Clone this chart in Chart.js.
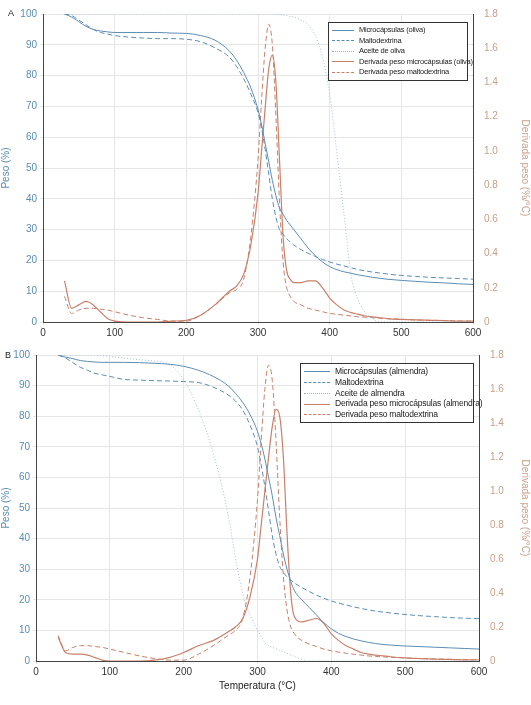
<!DOCTYPE html>
<html><head><meta charset="utf-8">
<script src="https://cdn.jsdelivr.net/npm/chart.js"></script>
<style>
body{margin:0;background:#fff;width:531px;height:705px;position:relative;font-family:"Liberation Sans",Arial,sans-serif;overflow:hidden}
.wrap{position:absolute;left:0;overflow:hidden}
.lab{position:absolute;font-size:9px;color:#222}
.leg{position:absolute;border:1px solid #333;background:#fff;font-size:7.5px;color:#222;padding:2px 3px;line-height:10.5px;letter-spacing:-0.2px}
.leg div{white-space:nowrap}
.leg span{display:inline-block;width:22px;margin-right:5px;vertical-align:middle}
</style></head><body>
<div class="wrap" style="top:0;height:340px;width:531px"><canvas id="a" width="531" height="357"></canvas></div>
<div class="wrap" style="top:340px;height:365px;width:531px"><canvas id="b" width="531" height="356"></canvas></div>
<div class="lab" style="left:8px;top:8px">A</div>
<div class="lab" style="left:5px;top:350px">B</div>
<div class="leg" style="left:328px;top:22px;width:132px">
<div><span style="border-top:1px solid #5b8db3"></span>Microcápsulas (oliva)</div>
<div><span style="border-top:1px dashed #5b8db3"></span>Maltodextrina</div>
<div><span style="border-top:1px dotted #9ab6cc"></span>Aceite de oliva</div>
<div><span style="border-top:1px solid #c8806a"></span>Derivada peso microcápsulas (oliva)</div>
<div><span style="border-top:1px dashed #c8806a"></span>Derivada peso maltodextrina</div>
</div>
<div class="leg" style="left:300px;top:363px;width:166px;font-size:8.5px;line-height:10.8px">
<div><span style="border-top:1px solid #5b8db3;width:26px"></span>Microcápsulas (almendra)</div>
<div><span style="border-top:1px dashed #5b8db3;width:26px"></span>Maltodextrina</div>
<div><span style="border-top:1px dotted #9ab6cc;width:26px"></span>Aceite de almendra</div>
<div><span style="border-top:1px solid #c8806a;width:26px"></span>Derivada peso microcápsulas (almendra)</div>
<div><span style="border-top:1px dashed #c8806a;width:26px"></span>Derivada peso maltodextrina</div>
</div>
<script>
const temps=[30,40,50,60,70,80,90,100,120,140,160,180,200,220,240,260,270,280,290,300,305,310,315,320,325,330,335,340,345,350,360,370,380,390,400,410,420,430,440,450,460,470,480,500,520,540,560,580,600];
const xTicks=[0,100,200,300,400,500,600];
const microOliva=[100,99,97.5,96,95,94.5,94.2,94,94,94,94,93.8,93.7,93,91.5,88,85,81,76,69,64,58,52,46,41,37,35,33,31.5,30,27,24,21.5,19.5,18,17,16.3,15.8,15.3,14.9,14.5,14.2,13.9,13.5,13.2,12.9,12.7,12.4,12.2];
const maltoA=[100,99.5,98,96.5,95,94,93.5,93,92.5,92.2,92,92,91.8,91,89,86,83,79,74,68,63,56,48,40,34,30,28.5,27,26,25,23.5,22.3,21.3,20.3,19.5,18.8,18.2,17.6,17,16.6,16.2,15.9,15.6,15.1,14.8,14.5,14.3,14.1,13.9];
const aceiteOliva=[100,100,100,100,100,100,100,100,100,100,100,100,100,100,100,100,100,100,100,100,100,100,100,100,99.9,99.8,99.7,99.5,99.2,99,98,96.5,93,86,74,55,35,15,7,3,1,0,0,0,0,0,0,0,0];
const dMicroOliva=[0.24,0.08,0.1,0.12,0.1,0.06,0.02,0.005,0,0,0,0.005,0.01,0.04,0.1,0.18,0.21,0.28,0.45,0.75,1.0,1.25,1.48,1.56,1.4,0.95,0.5,0.3,0.25,0.23,0.23,0.24,0.24,0.2,0.14,0.1,0.07,0.055,0.045,0.035,0.03,0.025,0.02,0.015,0.012,0.01,0.008,0.005,0.005];
const dMaltoA=[0.15,0.05,0.07,0.08,0.08,0.075,0.07,0.06,0.04,0.025,0.015,0.005,0.005,0.04,0.1,0.17,0.19,0.25,0.5,0.95,1.3,1.6,1.74,1.62,1.2,0.7,0.35,0.2,0.15,0.12,0.1,0.08,0.07,0.06,0.05,0.045,0.04,0.035,0.03,0.028,0.025,0.022,0.02,0.016,0.012,0.01,0.008,0.006,0.005];
const microAlm=[100,99.3,98.8,98.2,97.9,97.7,97.6,97.6,97.6,97.5,97.3,97,96.3,95,93,90,87.5,84.5,80.5,75,71,66,60,54,47,41,35,30,26,23,20,17.5,15,12.5,10.5,9,8,7.2,6.6,6.1,5.7,5.4,5.2,4.9,4.7,4.5,4.3,4.1,3.9];
const maltoB=[100,99,97.5,96,95,94,93.5,93,92,91.8,91.6,91.5,91.3,91,89.5,87,85,82,77,70,64,57,49,41,35,31,29,27.5,26.5,25.5,24,22.7,21.5,20.5,19.6,18.9,18.3,17.7,17.2,16.7,16.3,16,15.7,15.2,14.8,14.5,14.2,14,13.9];
const aceiteAlm=[100,100,100,100,100,100,99.8,99.5,99,98.5,98,97,92,82,68,48,34,22,15,10,8,6,5,4.5,4,3.5,3,2.5,2,1.5,0.5,0,0,0,0,0,0,0,0,0,0,0,0,0,0,0,0,0,0];
const dMicroAlm=[0.14,0.05,0.04,0.04,0.035,0.02,0.005,0,0,0,0.005,0.02,0.05,0.09,0.12,0.17,0.2,0.25,0.38,0.6,0.8,1.0,1.2,1.38,1.48,1.44,1.2,0.75,0.4,0.26,0.23,0.24,0.25,0.22,0.16,0.12,0.09,0.07,0.05,0.04,0.035,0.03,0.025,0.018,0.014,0.011,0.009,0.007,0.006];
const dMaltoB=[0.15,0.06,0.08,0.09,0.09,0.085,0.08,0.07,0.05,0.03,0.015,0.005,0.005,0.04,0.09,0.15,0.18,0.25,0.5,0.95,1.3,1.6,1.74,1.65,1.3,0.85,0.5,0.3,0.2,0.16,0.12,0.1,0.085,0.07,0.06,0.052,0.046,0.04,0.035,0.03,0.027,0.024,0.022,0.018,0.015,0.012,0.01,0.008,0.007];

const BLUE='#5b8db3',LBLUE='#a5bfd3',OR='#c8806a';
const pts=a=>temps.map((t,i)=>({x:t,y:a[i]}));
function ds(a,color,dash,axis,w){return{data:pts(a),borderColor:color,borderDash:dash,borderWidth:w||1,pointRadius:0,yAxisID:axis,cubicInterpolationMode:'monotone',fill:false};}
function make(id,sets,leftW,rightW,topPad){
 new Chart(document.getElementById(id),{type:'line',data:{datasets:sets},
 options:{responsive:false,animation:false,layout:{padding:{top:topPad,right:0,left:0,bottom:0}},
 plugins:{legend:{display:false},tooltip:{enabled:false}},
 scales:{
  x:{type:'linear',min:0,max:600,afterBuildTicks:s=>{s.ticks=xTicks.map(v=>({value:v}))},
     ticks:{color:'#333',font:{size:10},maxRotation:0,padding:2},grid:{color:'#e6e6e6',tickLength:3},border:{color:'#444'},
     title:{display:true,text:'Temperatura (°C)',color:'#222',font:{size:10},padding:{top:0}}},
  y:{position:'left',min:0,max:100,ticks:{stepSize:10,color:'#5b8db3',font:{size:10}},grid:{color:'#e6e6e6',tickLength:3},border:{color:'#444'},
     title:{display:true,text:'Peso (%)',color:'#5b8db3',font:{size:10},padding:0},afterFit:s=>{s.width=leftW}},
  y2:{position:'right',min:0,max:1.8,ticks:{stepSize:0.2,color:'#c8a08a',font:{size:10},callback:v=>v===0?'0':v.toFixed(1)},grid:{display:false},border:{color:'#444'},
     title:{display:true,text:'Derivada peso (%/°C)',color:'#c8a08a',font:{size:10},padding:0},afterFit:s=>{s.width=rightW}}
 }}});
}
make('a',[ds(microOliva,BLUE,[],'y'),ds(maltoA,BLUE,[5,3],'y'),ds(aceiteOliva,LBLUE,[1,2],'y'),ds(dMicroOliva,OR,[],'y2',1.2),ds(dMaltoA,OR,[5,3],'y2')],43,58,14);
make('b',[ds(microAlm,BLUE,[],'y'),ds(maltoB,BLUE,[5,3],'y'),ds(aceiteAlm,LBLUE,[1,2],'y'),ds(dMicroAlm,OR,[],'y2',1.2),ds(dMaltoB,OR,[5,3],'y2')],36,52,15);
</script></body></html>
